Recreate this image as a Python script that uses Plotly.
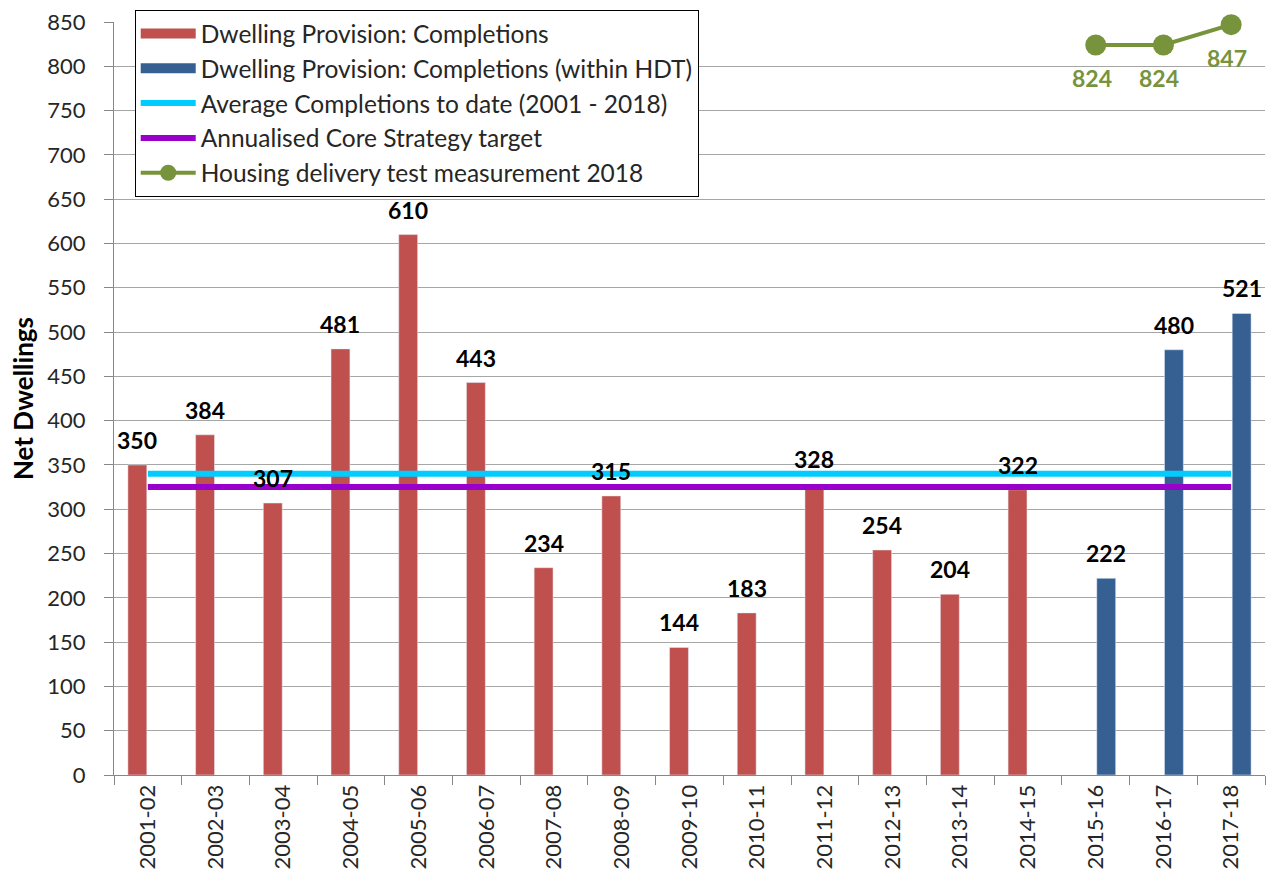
import plotly.graph_objects as go

categories = ["2001-02", "2002-03", "2003-04", "2004-05", "2005-06", "2006-07",
              "2007-08", "2008-09", "2009-10", "2010-11", "2011-12", "2012-13",
              "2013-14", "2014-15", "2015-16", "2016-17", "2017-18"]
completions = [350, 384, 307, 481, 610, 443, 234, 315, 144, 183, 328, 254,
               204, 322, None, None, None]
completions_hdt = [None] * 14 + [222, 480, 521]
average_completions = [340] * 17
core_strategy_target = [325] * 17
hdt_categories = ["2015-16", "2016-17", "2017-18"]
hdt_values = [824, 824, 847]
y_ticks = list(range(0, 851, 50))

RED = "#C0504D"
BLUE = "#376092"
CYAN = "#00CCFF"
PURPLE = "#9900CC"
GREEN = "#77933C"
FONT = "Lato"
TXT = "#262626"

W, H = 1267, 876
ML, MR, MT, MB = 114, 2, 22, 101
BARGAP, GROUPGAP = 0.38, 0.1

fig = go.Figure()
fig.add_trace(go.Bar(x=categories, y=completions, marker_color=RED, showlegend=False,
                     name="Dwelling Provision: Completions"))
fig.add_trace(go.Bar(x=categories, y=completions_hdt, marker_color=BLUE, showlegend=False,
                     name="Dwelling Provision: Completions (within HDT)"))
# legend-only swatches for bars
fig.add_trace(go.Scatter(x=[None], y=[None], mode="lines", line=dict(color=RED, width=15),
                         name="Dwelling Provision: Completions"))
fig.add_trace(go.Scatter(x=[None], y=[None], mode="lines", line=dict(color=BLUE, width=15),
                         name="Dwelling Provision: Completions (within HDT)"))
fig.add_trace(go.Scatter(x=categories, y=average_completions, mode="lines",
                         line=dict(color=CYAN, width=6),
                         name="Average Completions to date (2001 - 2018)"))
fig.add_trace(go.Scatter(x=categories, y=core_strategy_target, mode="lines",
                         line=dict(color=PURPLE, width=6),
                         name="Annualised Core Strategy target"))
fig.add_trace(go.Scatter(x=hdt_categories, y=hdt_values, mode="lines+markers",
                         line=dict(color=GREEN, width=4), marker=dict(color=GREEN, size=21),
                         cliponaxis=False,
                         name="Housing delivery test measurement 2018"))

# data labels
cat_px = (W - ML - MR) / len(categories)
slot = cat_px * (1 - BARGAP) / 2
annotations = []
for series, shift in ((completions, -slot / 2), (completions_hdt, slot / 2)):
    for c, v in zip(categories, series):
        if v is None:
            continue
        annotations.append(dict(x=c, y=v, text=f"<b>{v}</b>", showarrow=False,
                                xanchor="center", yanchor="bottom", xshift=shift, yshift=9,
                                font=dict(family=FONT, size=23, color="black")))
for c, v in zip(hdt_categories, hdt_values):
    annotations.append(dict(x=c, y=v, text=f"<b>{v}</b>", showarrow=False,
                            xanchor="center", yanchor="top", xshift=-4, yshift=-17,
                            font=dict(family=FONT, size=23, color=GREEN)))

fig.update_layout(
    width=W, height=H,
    margin=dict(l=ML, r=MR, t=MT, b=MB, autoexpand=False),
    paper_bgcolor="white", plot_bgcolor="white",
    barmode="group", bargap=BARGAP, bargroupgap=GROUPGAP,
    font=dict(family=FONT, size=22, color=TXT),
    annotations=annotations,
    legend=dict(x=0.018, y=1.016, xanchor="left", yanchor="top",
                bgcolor="white", bordercolor="black", borderwidth=1,
                font=dict(family=FONT, size=24.5, color=TXT),
                itemwidth=55, tracegroupgap=0),
)
fig.update_xaxes(type="category", categoryorder="array", categoryarray=categories,
                 range=[-0.5, len(categories) - 0.5],
                 tickangle=-90, tickson="boundaries", ticks="outside", ticklen=9,
                 tickcolor="#878787", showline=True, linecolor="#878787", linewidth=1,
                 showgrid=False, automargin=False,
                 tickfont=dict(family=FONT, size=22, color=TXT))
fig.update_yaxes(range=[0, 850], tickvals=y_ticks, ticks="outside", ticklen=9,
                 tickcolor="#878787", showline=True, linecolor="#878787", linewidth=1,
                 showgrid=True, gridcolor="#A6A6A6", gridwidth=1, zeroline=False,
                 automargin=False, ticklabelstandoff=14,
                 tickfont=dict(family=FONT, size=22, color=TXT),
                 title=dict(text="<b>Net Dwellings</b>", standoff=6,
                            font=dict(family=FONT, size=26, color="black")))

fig.write_html("out.html", config={"displayModeBar": False},
               post_script="document.body.style.margin='0';document.body.style.overflow='hidden';")
